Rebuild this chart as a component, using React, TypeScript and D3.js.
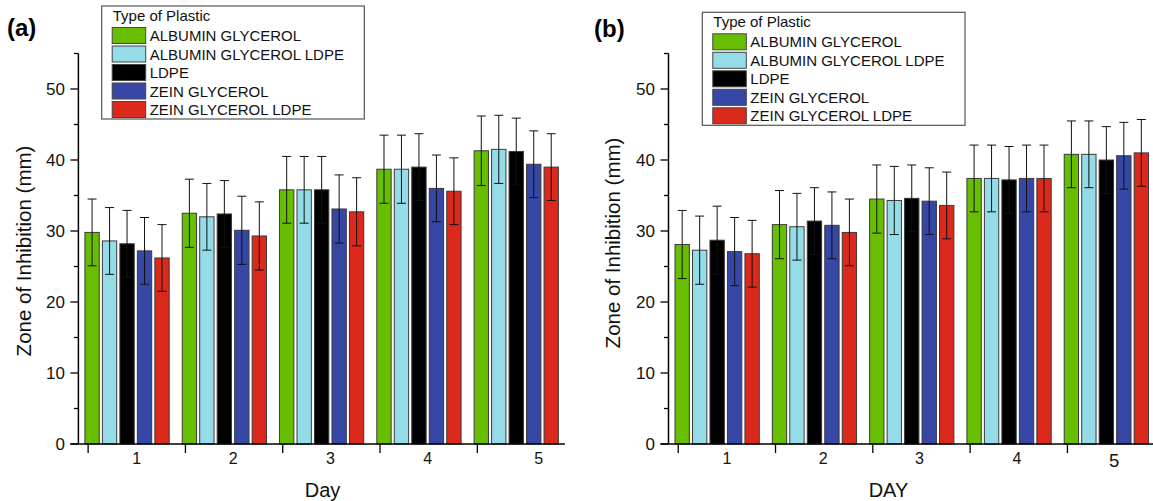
import React from 'react';
import * as d3 from 'd3';

const days = [1, 2, 3, 4, 5];
const plasticTypes = ['ALBUMIN GLYCEROL', 'ALBUMIN GLYCEROL LDPE', 'LDPE', 'ZEIN GLYCEROL', 'ZEIN GLYCEROL LDPE'];
const plasticColors = ['#68BE00', '#93DCE8', '#000000', '#3747A5', '#DB2A1C'];
const yMajorTicks = [0, 10, 20, 30, 40, 50];
const yMinorTicks = [5, 15, 25, 35, 45, 55];

// Panel (a)
const aAlbuminGlycerol = [29.8, 32.5, 35.8, 38.7, 41.3];
const aAlbuminGlycerolLdpe = [28.6, 32.0, 35.8, 38.7, 41.5];
const aLdpe = [28.2, 32.4, 35.8, 39.0, 41.2];
const aZeinGlycerol = [27.2, 30.1, 33.1, 36.0, 39.4];
const aZeinGlycerolLdpe = [26.2, 29.3, 32.7, 35.6, 39.0];
const aErrAlbuminGlycerol = [4.7, 4.8, 4.7, 4.8, 4.9];
const aErrAlbuminGlycerolLdpe = [4.7, 4.7, 4.7, 4.8, 4.8];
const aErrLdpe = [4.7, 4.7, 4.7, 4.7, 4.7];
const aErrZeinGlycerol = [4.7, 4.8, 4.8, 4.7, 4.7];
const aErrZeinGlycerolLdpe = [4.7, 4.8, 4.8, 4.7, 4.7];
const aTickLabelPos = [1.1, 2.09, 3.09, 4.09, 5.23];

// Panel (b)
const bAlbuminGlycerol = [28.1, 30.9, 34.5, 37.4, 40.8];
const bAlbuminGlycerolLdpe = [27.3, 30.6, 34.3, 37.4, 40.8];
const bLdpe = [28.7, 31.4, 34.6, 37.2, 40.0];
const bZeinGlycerol = [27.1, 30.8, 34.2, 37.4, 40.6];
const bZeinGlycerolLdpe = [26.8, 29.8, 33.6, 37.4, 41.0];
const bErrAlbuminGlycerol = [4.8, 4.8, 4.8, 4.7, 4.7];
const bErrAlbuminGlycerolLdpe = [4.8, 4.7, 4.8, 4.7, 4.7];
const bErrLdpe = [4.8, 4.7, 4.7, 4.7, 4.7];
const bErrZeinGlycerol = [4.8, 4.7, 4.7, 4.7, 4.7];
const bErrZeinGlycerolLdpe = [4.7, 4.7, 4.7, 4.7, 4.7];
const bTickLabelPos = [1.1, 2.09, 3.08, 4.08, 5.08];

const FONT = '"Liberation Sans", Arial, Helvetica, sans-serif';

type PanelCfg = {
  values: number[][];
  errors: number[][];
  x0: number;
  x1: number;
  panelLabel: string;
  panelLabelX: number;
  panelLabelY: number;
  xTitle: string;
  xTitleX: number;
  yTitleX: number;
  yTitleY: number;
  legendX: number;
  legendY: number;
  legendW: number;
  tickLabelPos: number[];
  bigLast: boolean;
};

function Panel({ cfg }: { cfg: PanelCfg }) {
  const x = d3.scaleLinear().domain([0.5, 5.5]).range([cfg.x0, cfg.x1]);
  const y = d3.scaleLinear().domain([0, 55]).range([444, 53.5]);
  const pitch = x(1.5) - x(0.5);
  const half = pitch * 0.433;
  const axisRight = Math.min(cfg.x1, 1153);

  return (
    <g>
      {/* bars */}
      {days.map((d, di) => {
        const inner = d3
          .scaleBand<number>()
          .domain(d3.range(plasticTypes.length))
          .range([x(d) - half, x(d) + half])
          .paddingInner(0.18)
          .paddingOuter(0);
        return (
          <g key={d}>
            {plasticTypes.map((_, si) => {
              const v = cfg.values[si][di];
              const e = cfg.errors[si][di];
              const bx = inner(si)!;
              const bw = inner.bandwidth();
              const cx = bx + bw / 2;
              return (
                <g key={si}>
                  <rect
                    x={bx}
                    y={y(v)}
                    width={bw}
                    height={y(0) - y(v)}
                    fill={plasticColors[si]}
                    stroke="#3a3a3a"
                    strokeWidth={1}
                  />
                  <line x1={cx} x2={cx} y1={y(v + e)} y2={y(v - e)} stroke="#111" strokeWidth={1} />
                  <line x1={cx - 4.5} x2={cx + 4.5} y1={y(v + e)} y2={y(v + e)} stroke="#111" strokeWidth={1} />
                  <line x1={cx - 4.5} x2={cx + 4.5} y1={y(v - e)} y2={y(v - e)} stroke="#111" strokeWidth={1} />
                </g>
              );
            })}
          </g>
        );
      })}

      {/* y axis */}
      <line x1={cfg.x0} x2={cfg.x0} y1={y(0)} y2={y(55)} stroke="#000" strokeWidth={1.5} />
      {yMajorTicks.map((t) => (
        <g key={'M' + t}>
          <line x1={cfg.x0 - 8} x2={cfg.x0} y1={y(t)} y2={y(t)} stroke="#000" strokeWidth={1.3} />
          <text x={cfg.x0 - 13.5} y={y(t) + 5.8} textAnchor="end" fontSize={17} fontFamily={FONT} fill="#111">
            {t}
          </text>
        </g>
      ))}
      {yMinorTicks.map((t) => (
        <line key={'m' + t} x1={cfg.x0 - 4.5} x2={cfg.x0} y1={y(t)} y2={y(t)} stroke="#000" strokeWidth={1.3} />
      ))}

      {/* x axis */}
      <line x1={cfg.x0 - 8} x2={axisRight} y1={y(0)} y2={y(0)} stroke="#000" strokeWidth={1.5} />
      {days.map((d) => (
        <line key={'xt' + d} x1={x(d - 0.4)} x2={x(d - 0.4)} y1={y(0)} y2={y(0) + 9} stroke="#000" strokeWidth={1.3} />
      ))}
      {days.map((d, i) => {
        const big = cfg.bigLast && i === days.length - 1;
        return (
          <text
            key={'xl' + d}
            x={x(cfg.tickLabelPos[i])}
            y={big ? 466.5 : 463.5}
            textAnchor="middle"
            fontSize={big ? 18.5 : 16}
            fontFamily={FONT}
            fill="#111"
          >
            {d}
          </text>
        );
      })}

      {/* titles */}
      <text x={cfg.xTitleX} y={497} textAnchor="middle" fontSize={20} fontFamily={FONT} fill="#111">
        {cfg.xTitle}
      </text>
      <text
        transform={`translate(${cfg.yTitleX},${cfg.yTitleY}) rotate(-90)`}
        textAnchor="middle"
        fontSize={20.5}
        fontFamily={FONT}
        fill="#111"
      >
        Zone of Inhibition (mm)
      </text>
      <text x={cfg.panelLabelX} y={cfg.panelLabelY} fontSize={24} fontWeight="bold" fontFamily={FONT} fill="#000">
        {cfg.panelLabel}
      </text>

      {/* legend */}
      <g transform={`translate(${cfg.legendX},${cfg.legendY})`}>
        <rect x={0} y={0} width={cfg.legendW} height={113} fill="#fff" stroke="#555" strokeWidth={1.2} />
        <text x={11} y={15} fontSize={15} fontFamily={FONT} fill="#111">
          Type of Plastic
        </text>
        {plasticTypes.map((name, i) => (
          <g key={name} transform={`translate(0,${21.5 + i * 18.5})`}>
            <rect x={10.5} y={0} width={33.5} height={16} fill={plasticColors[i]} stroke="#444" strokeWidth={1} />
            <text x={48} y={13.5} fontSize={15} fontFamily={FONT} fill="#111">
              {name}
            </text>
          </g>
        ))}
      </g>
    </g>
  );
}

export default function App() {
  const panelA: PanelCfg = {
    values: [aAlbuminGlycerol, aAlbuminGlycerolLdpe, aLdpe, aZeinGlycerol, aZeinGlycerolLdpe],
    errors: [aErrAlbuminGlycerol, aErrAlbuminGlycerolLdpe, aErrLdpe, aErrZeinGlycerol, aErrZeinGlycerolLdpe],
    x0: 78.4,
    x1: 564.9,
    panelLabel: '(a)',
    panelLabelX: 7,
    panelLabelY: 36,
    xTitle: 'Day',
    xTitleX: 322.5,
    yTitleX: 31,
    yTitleY: 251,
    legendX: 101.7,
    legendY: 6,
    legendW: 262.6,
    tickLabelPos: aTickLabelPos,
    bigLast: false,
  };
  const panelB: PanelCfg = {
    values: [bAlbuminGlycerol, bAlbuminGlycerolLdpe, bLdpe, bZeinGlycerol, bZeinGlycerolLdpe],
    errors: [bErrAlbuminGlycerol, bErrAlbuminGlycerolLdpe, bErrLdpe, bErrZeinGlycerol, bErrZeinGlycerolLdpe],
    x0: 668.5,
    x1: 1155,
    panelLabel: '(b)',
    panelLabelX: 594,
    panelLabelY: 37,
    xTitle: 'DAY',
    xTitleX: 888.5,
    yTitleX: 620,
    yTitleY: 243,
    legendX: 702.3,
    legendY: 12.3,
    legendW: 262.7,
    tickLabelPos: bTickLabelPos,
    bigLast: true,
  };
  return (
    <svg
      width={1153}
      height={501}
      viewBox="0 0 1153 501"
      style={{ position: 'absolute', left: 0, top: 0, background: '#fff' }}
    >
      <rect x={0} y={0} width={1153} height={501} fill="#fff" />
      <Panel cfg={panelA} />
      <Panel cfg={panelB} />
    </svg>
  );
}
